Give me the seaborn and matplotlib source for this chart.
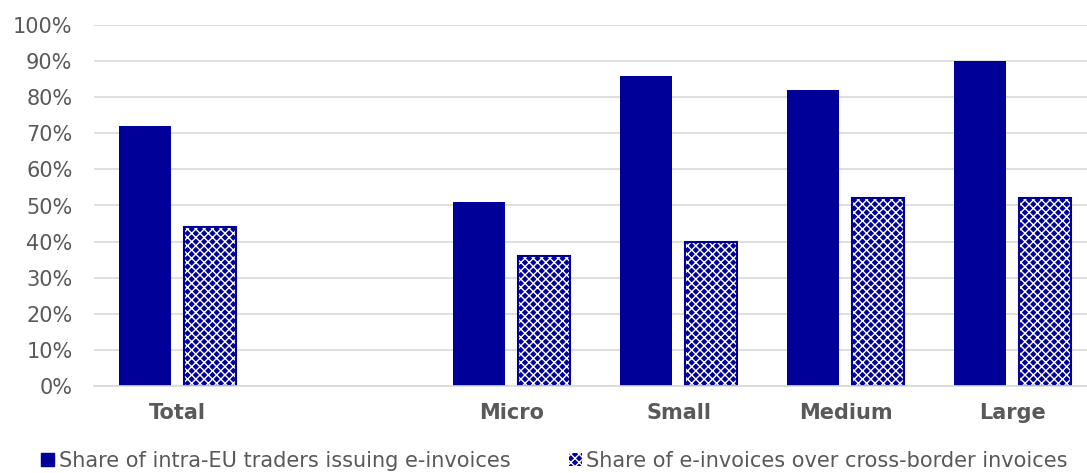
import matplotlib
matplotlib.use("Agg")
import matplotlib.pyplot as plt
import matplotlib.patches as mpatches
from matplotlib.ticker import PercentFormatter
import seaborn as sns
import pandas as pd

categories = ["Total", "", "Micro", "Small", "Medium", "Large"]
series_names = ["Share of intra-EU traders issuing e-invoices",
                "Share of e-invoices over cross-border invoices"]
issuing = [0.72, None, 0.51, 0.86, 0.82, 0.90]
share_cb = [0.44, None, 0.36, 0.40, 0.52, 0.52]

rows = []
for c, a, b in zip(categories, issuing, share_cb):
    rows.append({"cat": c, "series": series_names[0], "val": a})
    rows.append({"cat": c, "series": series_names[1], "val": b})
df = pd.DataFrame(rows)

NAVY = "#000099"
GRID = "#d9d9d9"
TXT = "#595959"

sns.set_theme(style="white")
plt.rcParams["font.family"] = ["DejaVu Sans"]
plt.rcParams["hatch.linewidth"] = 1.0

fig = plt.figure(figsize=(10.87, 4.73), dpi=100)
ax = fig.add_axes([94 / 1087, 1 - 386 / 473, 1 - 94 / 1087, (386 - 25) / 473])

sns.barplot(data=df, x="cat", y="val", hue="series", order=categories,
            hue_order=series_names, palette=[NAVY, NAVY], width=0.78, gap=0.2,
            saturation=1, ax=ax, legend=False, linewidth=0)

ax.set_ylim(0, 1)
ax.set_xlim(-0.5, -0.5 + 993 / 167)
ax.set_yticks([i / 10 for i in range(11)])
ax.yaxis.set_major_formatter(PercentFormatter(1.0, decimals=0))
ax.grid(axis="y", color=GRID, linewidth=1.2)
ax.set_axisbelow(True)
for s in ["top", "right", "left"]:
    ax.spines[s].set_visible(False)
ax.spines["bottom"].set_color(GRID)
ax.spines["bottom"].set_linewidth(1.2)
ax.set_xlabel("")
ax.set_ylabel("")
ax.tick_params(axis="y", colors=TXT, labelsize=15, length=0, pad=15.5)
ax.tick_params(axis="x", colors=TXT, labelsize=15, length=0, pad=12)
for lab in ax.get_xticklabels():
    lab.set_fontweight("bold")

# pattern for second series
for p in ax.containers[1]:
    if p.get_height() != p.get_height() or p.get_height() == 0:
        continue
    p.set_hatch("xxxx")
    p.set_edgecolor("white")
    p.set_linewidth(0)
    border = mpatches.Rectangle(p.get_xy(), p.get_width(), p.get_height(),
                                facecolor="none", edgecolor=NAVY, linewidth=1.5)
    ax.add_patch(border)

h1 = mpatches.Patch(facecolor=NAVY, edgecolor=NAVY)
h2 = mpatches.Patch(facecolor=NAVY, edgecolor="white", hatch="xxxx", linewidth=0)
leg = fig.legend([h1, h2], series_names, loc="lower center", ncol=2,
                 bbox_to_anchor=(0.51, -0.035), frameon=False, fontsize=15,
                 handlelength=0.65, handleheight=0.65, handletextpad=0.2,
                 columnspacing=2.8)
for t in leg.get_texts():
    t.set_color(TXT)

fig.savefig("out.png", dpi=100)
